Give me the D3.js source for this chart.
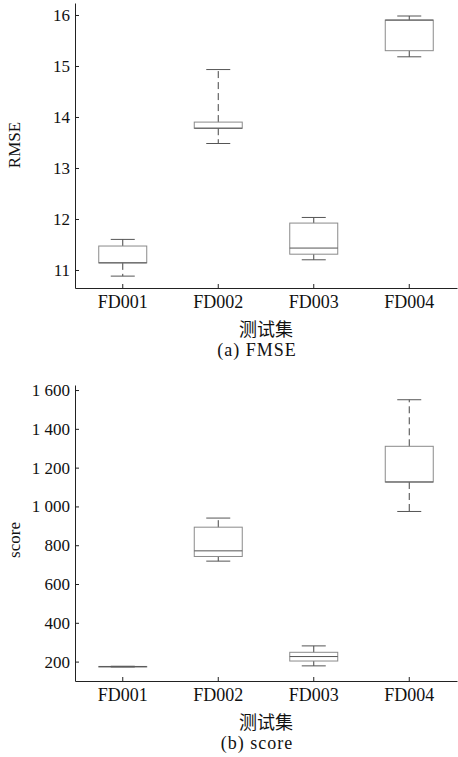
<!DOCTYPE html>
<html>
<head>
<meta charset="utf-8">
<script src="https://cdn.jsdelivr.net/npm/d3@7"></script>
<style>
  body { margin: 0; background: #fff; }
  svg text { font-family: "Liberation Serif", Tinos, "Times New Roman", Times, serif !important; fill: #111; }
  svg text.cjk { font-family: "Noto Sans CJK SC", sans-serif !important; }
</style>
</head>
<body>
<svg id="chart" width="458" height="757"></svg>
<script>
var categories = ["FD001", "FD002", "FD003", "FD004"];

// RMSE box stats: min, q1, median, q3, max
var rmseMin = [10.88, 13.48, 11.20, 15.18];
var rmseQ1  = [11.14, 13.78, 11.31, 15.30];
var rmseMed = [11.14, 13.78, 11.43, 15.90];
var rmseQ3  = [11.47, 13.90, 11.92, 15.90];
var rmseMax = [11.60, 14.93, 12.03, 15.98];
var rmseTicks = [11, 12, 13, 14, 15, 16];

// score box stats
var scoreMin = [172, 718, 178, 974];
var scoreQ1  = [174, 742, 203, 1126];
var scoreMed = [174, 771, 226, 1126];
var scoreQ3  = [175, 893, 248, 1310];
var scoreMax = [176, 940, 281, 1550];
var scoreTicks = [200, 400, 600, 800, 1000, 1200, 1400, 1600];

var svg = d3.select("#chart");
var left = 75, right = 457;

var x = d3.scaleBand().domain(categories).range([left, right]).padding(0);

function spaced(d) {
  return d3.format(",")(d).replace(",", " ");
}

function panel(opt) {
  var y = d3.scaleLinear().domain(opt.domain).range([opt.bottom, opt.top]);
  var g = svg.append("g");

  var boxes = categories.map(function(c, i) {
    return { c: c, min: opt.min[i], q1: opt.q1[i], med: opt.med[i], q3: opt.q3[i], max: opt.max[i] };
  });

  var bw = 48, cw = 24;
  var b = g.selectAll(".box").data(boxes).enter().append("g").attr("class", "box");
  var cx = function(d) { return x(d.c) + x.bandwidth() / 2; };

  // whiskers
  b.append("line")
    .attr("x1", cx).attr("x2", cx)
    .attr("y1", function(d) { return y(d.q3); })
    .attr("y2", function(d) { return y(d.max); })
    .attr("stroke", "#444").attr("stroke-dasharray", "7,4");
  b.append("line")
    .attr("x1", cx).attr("x2", cx)
    .attr("y1", function(d) { return y(d.q1); })
    .attr("y2", function(d) { return y(d.min); })
    .attr("stroke", "#444").attr("stroke-dasharray", "7,4");

  // caps
  ["min", "max"].forEach(function(k) {
    b.append("line")
      .attr("x1", function(d) { return cx(d) - cw / 2; })
      .attr("x2", function(d) { return cx(d) + cw / 2; })
      .attr("y1", function(d) { return y(d[k]); })
      .attr("y2", function(d) { return y(d[k]); })
      .attr("stroke", "#555");
  });

  // box
  b.append("rect")
    .attr("x", function(d) { return cx(d) - bw / 2; })
    .attr("width", bw)
    .attr("y", function(d) { return y(d.q3); })
    .attr("height", function(d) { return Math.max(0.5, y(d.q1) - y(d.q3)); })
    .attr("fill", "none").attr("stroke", "#8a8a8a");

  // median
  b.append("line")
    .attr("x1", function(d) { return cx(d) - bw / 2; })
    .attr("x2", function(d) { return cx(d) + bw / 2; })
    .attr("y1", function(d) { return y(d.med); })
    .attr("y2", function(d) { return y(d.med); })
    .attr("stroke", "#555");

  // axes
  var ya = d3.axisLeft(y).tickValues(opt.ticks).tickSizeInner(-4).tickSizeOuter(0)
    .tickPadding(5).tickFormat(opt.fmt);
  var yg = g.append("g").attr("transform", "translate(" + left + ",0)").call(ya);
  yg.attr("font-family", null);
  yg.selectAll("text").style("font-size", "17px");
  yg.selectAll("line, path").attr("stroke", "#222");

  var xa = d3.axisBottom(x).tickSizeInner(-4).tickSizeOuter(0).tickPadding(7);
  var xg = g.append("g").attr("transform", "translate(0," + opt.bottom + ")").call(xa);
  xg.attr("font-family", null);
  xg.selectAll("text").style("font-size", "18px");
  xg.selectAll("line, path").attr("stroke", "#222");

  g.append("text")
    .attr("transform", "translate(20," + opt.ylabelY + ") rotate(-90)")
    .attr("text-anchor", "middle")
    .style("font-size", "17px")
    .text(opt.ylabel);

  g.append("text").attr("class", "cjk")
    .attr("x", 266).attr("y", opt.bottom + 48)
    .attr("text-anchor", "middle")
    .style("font-size", "18px")
    .text("测试集");

  g.append("text")
    .attr("x", 257).attr("y", opt.bottom + 68)
    .attr("text-anchor", "middle")
    .style("font-size", "18px")
    .style("letter-spacing", "1px")
    .text(opt.caption);
}

panel({
  domain: [10.647, 16.235], top: 3, bottom: 288,
  min: rmseMin, q1: rmseQ1, med: rmseMed, q3: rmseQ3, max: rmseMax,
  ticks: rmseTicks, fmt: d3.format("d"),
  ylabel: "RMSE", ylabelY: 145, caption: "(a) FMSE"
});

panel({
  domain: [100, 1626], top: 385, bottom: 681,
  min: scoreMin, q1: scoreQ1, med: scoreMed, q3: scoreQ3, max: scoreMax,
  ticks: scoreTicks, fmt: spaced,
  ylabel: "score", ylabelY: 540, caption: "(b) score"
});
</script>
</body>
</html>
